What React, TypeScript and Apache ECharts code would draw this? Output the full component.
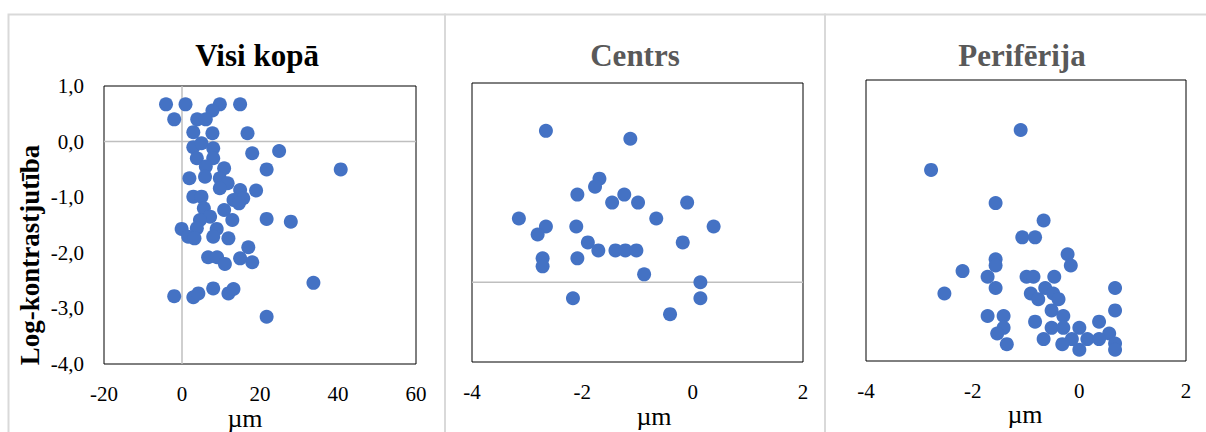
import React, { useEffect, useRef } from "react";
import * as echarts from "echarts";

// All subjects: [µm, log contrast sensitivity]
const allPoints: [number, number][] = [
  [-4.1, 0.67], [0.9, 0.67], [9.7, 0.67], [14.9, 0.67], [7.8, 0.56],
  [-2.0, 0.4], [3.9, 0.4], [6.1, 0.4], [2.9, 0.17], [7.8, 0.15],
  [16.8, 0.15], [2.9, -0.1], [5.0, -0.03], [8.0, -0.12], [24.9, -0.17],
  [18.0, -0.21], [3.8, -0.3], [8.0, -0.3], [6.1, -0.45], [10.8, -0.48],
  [21.7, -0.5], [40.7, -0.5], [1.9, -0.66], [5.9, -0.63], [9.7, -0.66],
  [11.7, -0.75], [9.7, -0.84], [14.9, -0.87], [19.0, -0.88], [2.9, -0.99],
  [5.0, -0.99], [13.2, -1.05], [15.7, -1.02], [14.6, -1.11], [5.6, -1.2],
  [10.8, -1.23], [7.2, -1.35], [4.6, -1.41], [12.9, -1.41], [21.7, -1.39],
  [27.9, -1.44], [-0.1, -1.57], [3.8, -1.56], [8.9, -1.57], [1.6, -1.71],
  [3.2, -1.74], [8.0, -1.71], [11.9, -1.74], [17.0, -1.9], [6.7, -2.08],
  [9.0, -2.08], [14.9, -2.1], [11.0, -2.2], [18.0, -2.17], [33.7, -2.54],
  [8.0, -2.64], [11.9, -2.73], [13.2, -2.65], [-2.0, -2.78], [2.9, -2.8],
  [4.2, -2.73], [21.7, -3.15],
];

// Centre region
const centrePoints: [number, number][] = [
  [-2.66, 1.9], [-1.13, 1.8], [-1.69, 1.3], [-1.77, 1.2], [-2.09, 1.1],
  [-1.24, 1.1], [-1.46, 1.0], [-0.99, 1.0], [-0.1, 1.0], [-3.15, 0.8],
  [-0.66, 0.8], [-2.66, 0.7], [-2.81, 0.6], [-2.11, 0.7], [0.38, 0.7],
  [-1.9, 0.5], [-0.18, 0.5], [-1.71, 0.4], [-1.4, 0.4], [-1.22, 0.4],
  [-1.02, 0.4], [-2.72, 0.3], [-2.72, 0.2], [-2.09, 0.3], [-0.88, 0.1],
  [0.14, 0.0], [-2.17, -0.2], [0.14, -0.2], [-0.41, -0.4],
];

// Periphery region
const peripheryPoints: [number, number][] = [
  [-1.1, 4.11], [-2.78, 3.4], [-1.57, 2.81], [-0.67, 2.5], [-1.07, 2.2],
  [-0.83, 2.2], [-0.22, 1.9], [-0.16, 1.7], [-1.57, 1.81], [-1.57, 1.7],
  [-2.19, 1.6], [-1.72, 1.5], [-0.99, 1.5], [-0.86, 1.5], [-0.47, 1.5],
  [-1.57, 1.3], [-2.53, 1.2], [0.67, 1.3], [-0.64, 1.3], [-0.91, 1.2],
  [-0.77, 1.1], [-0.49, 1.2], [-0.39, 1.1], [-0.52, 0.9], [0.67, 0.9],
  [-1.72, 0.8], [-1.42, 0.8], [-0.3, 0.8], [-0.83, 0.7], [0.37, 0.7],
  [-1.42, 0.59], [-0.52, 0.59], [-0.3, 0.59], [0.0, 0.59], [-1.54, 0.49],
  [0.56, 0.49], [-0.67, 0.39], [-0.14, 0.39], [0.15, 0.39], [0.37, 0.39],
  [0.67, 0.31], [-1.36, 0.3], [-0.32, 0.3], [0.0, 0.2], [0.67, 0.2],
];

const panelTitles = ["Visi kopā", "Centrs", "Perifērija"];
const xAxisName = "µm";
const yAxisName = "Log-kontrastjutība";

// Axis ranges per panel
const xRange1 = { min: -20, max: 60, interval: 20 };
const yRange1 = { min: -4, max: 1, interval: 1 };
const xRangeSmall = { min: -4, max: 2, interval: 2 };
const yRange2 = { min: -1, max: 2.5, interval: 0.5 };
const yRange3 = { min: 0, max: 5, interval: 1 };

const FONT = "'Liberation Serif', 'Times New Roman', serif";
const DOT = "#4472C4";
const ZERO_LINE = "#bfbfbf";
const PANEL_BORDER = "#d9d9d9";

export default function App() {
  const ref = useRef<HTMLDivElement>(null);

  useEffect(() => {
    if (!ref.current) return;
    const chart = echarts.init(ref.current, null, { renderer: "svg" });

    const grids = [
      { left: 104, top: 86, width: 312, height: 278 },
      { left: 472, top: 83, width: 331, height: 279 },
      { left: 866, top: 80, width: 320, height: 281 },
    ].map((g) => ({
      ...g,
      show: true,
      borderColor: "#000",
      borderWidth: 1,
      backgroundColor: "transparent",
    }));

    const xLabel = {
      fontFamily: FONT,
      fontSize: 21,
      color: "#000",
      margin: 19,
    };

    const makeX = (i: number, r: { min: number; max: number; interval: number }) => ({
      type: "value" as const,
      gridIndex: i,
      ...r,
      axisLine: { show: false, onZero: false },
      axisTick: { show: false },
      splitLine: { show: false },
      axisLabel: xLabel,
    });

    const makeY = (
      i: number,
      r: { min: number; max: number; interval: number },
      labels: boolean
    ) => ({
      type: "value" as const,
      gridIndex: i,
      ...r,
      axisLine: { show: false, onZero: false },
      axisTick: { show: false },
      splitLine: { show: false },
      axisLabel: {
        show: labels,
        fontFamily: FONT,
        fontSize: 21,
        color: "#000",
        margin: 20,
        formatter: (v: number) => v.toFixed(1).replace(".", ","),
      },
    });

    const scatter = (i: number, data: [number, number][]) => ({
      type: "scatter" as const,
      xAxisIndex: i,
      yAxisIndex: i,
      data,
      symbolSize: 14,
      itemStyle: { color: DOT, opacity: 1 },
      z: 3,
    });

    const zeroLine = (i: number, data: [number, number][]) => ({
      type: "line" as const,
      xAxisIndex: i,
      yAxisIndex: i,
      data,
      symbol: "none",
      silent: true,
      lineStyle: { color: ZERO_LINE, width: 1.5 },
      z: 1,
    });

    const text = (
      x: number,
      y: number,
      t: string,
      size: number,
      bold: boolean,
      color: string,
      rotation = 0
    ) => ({
      type: "text" as const,
      x,
      y,
      rotation,
      style: {
        text: t,
        fontFamily: FONT,
        fontSize: size,
        fontWeight: bold ? "bold" : "normal",
        fill: color,
        textAlign: "center",
        textVerticalAlign: "middle",
      },
      z: 10,
    });

    const panelBox = (x: number, w: number) => ({
      type: "rect" as const,
      shape: { x, y: 14.5, width: w, height: 440 },
      style: { fill: "none", stroke: PANEL_BORDER, lineWidth: 2 },
      z: 0,
    });

    chart.setOption({
      animation: false,
      backgroundColor: "#fff",
      grid: grids,
      xAxis: [makeX(0, xRange1), makeX(1, xRangeSmall), makeX(2, xRangeSmall)],
      yAxis: [makeY(0, yRange1, true), makeY(1, yRange2, false), makeY(2, yRange3, false)],
      series: [
        zeroLine(0, [[0, yRange1.min], [0, yRange1.max]]),
        zeroLine(0, [[xRange1.min, 0], [xRange1.max, 0]]),
        zeroLine(1, [[xRangeSmall.min, 0], [xRangeSmall.max, 0]]),
        scatter(0, allPoints),
        scatter(1, centrePoints),
        scatter(2, peripheryPoints),
      ],
      graphic: [
        panelBox(8.5, 436.5),
        panelBox(445, 380),
        panelBox(825, 400),
        text(257, 55, panelTitles[0], 31, true, "#000"),
        text(635, 55, panelTitles[1], 31, true, "#595959"),
        text(1022, 55, panelTitles[2], 31, true, "#595959"),
        text(30, 255, yAxisName, 27, true, "#000", Math.PI / 2),
        text(245, 418, xAxisName, 26, false, "#000"),
        text(654, 416, xAxisName, 26, false, "#000"),
        text(1025, 414, xAxisName, 26, false, "#000"),
      ],
    });

    return () => chart.dispose();
  }, []);

  return (
    <div
      ref={ref}
      style={{ position: "absolute", left: 0, top: 0, width: 1206, height: 432 }}
    />
  );
}
